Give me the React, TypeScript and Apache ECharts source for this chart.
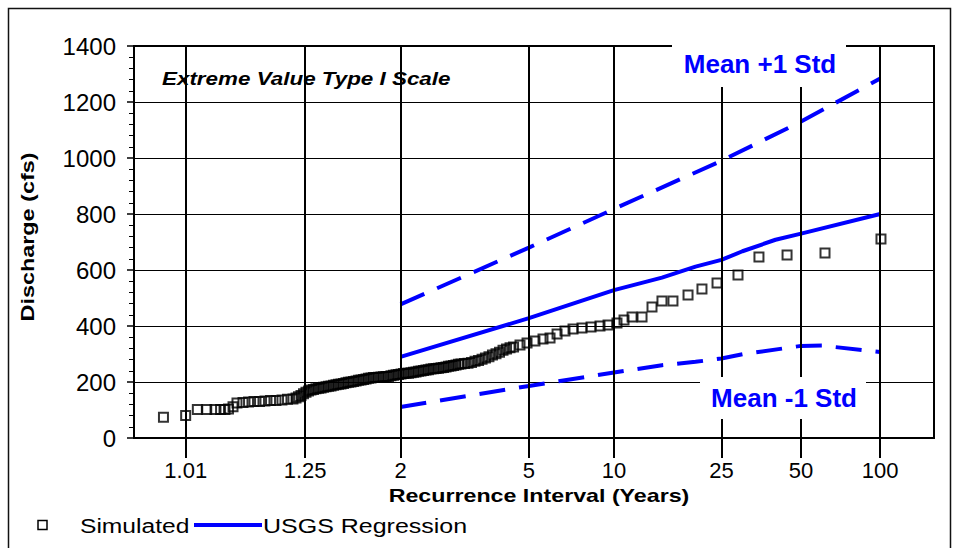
import React, { useEffect, useRef } from "react";
import * as echarts from "echarts";

const FONT = '"Liberation Sans", Arial, Helvetica, sans-serif';
const BLUE = "#0000FF";

// Recurrence-interval ticks (years), placed on an Extreme Value Type I (Gumbel) scale
const tickReturnPeriods = [1.01, 1.25, 2, 5, 10, 25, 50, 100];
const tickLabels = ["1.01", "1.25", "2", "5", "10", "25", "50", "100"];

// USGS regression curve (T in years, discharge in cfs)
const regressionT = [2, 5, 10, 15, 20, 25, 30, 40, 50, 100];
const regressionQ = [290, 428, 528, 573, 612, 636, 667, 708, 730, 800];

// Regression + 1 standard error
const plusStdT = [2, 5, 10, 25, 50, 100];
const plusStdQ = [477, 680, 818, 990, 1130, 1284];

// Regression - 1 standard error
const minusStdT = [2, 5, 10, 15, 20, 25, 30, 50, 60, 100];
const minusStdQ = [111, 186, 234, 260, 272, 284, 299, 329, 330, 307];

// Simulated annual peaks: Gumbel reduced variate (plotting position) and discharge (cfs)
const simulatedVariate = [
  -1.726, -1.53, -1.427, -1.344, -1.271, -1.222, -1.183, -1.152, -1.112, -1.077,
  -1.024, -0.975, -0.927, -0.878, -0.83, -0.781, -0.733, -0.68, -0.631, -0.583,
  -0.556, -0.534, -0.512, -0.49, -0.468, -0.446, -0.424, -0.402, -0.38, -0.357,
  -0.335, -0.313, -0.291, -0.269, -0.247, -0.225, -0.203, -0.181, -0.159, -0.137,
  -0.115, -0.093, -0.071, -0.049, -0.026, -0.004, 0.018, 0.04, 0.062, 0.084,
  0.106, 0.128, 0.15, 0.172, 0.194, 0.216, 0.238, 0.26, 0.282, 0.304,
  0.327, 0.349, 0.371, 0.393, 0.415, 0.437, 0.459, 0.481, 0.503, 0.525,
  0.547, 0.569, 0.591, 0.613, 0.635, 0.658, 0.68, 0.702, 0.724, 0.746,
  0.768, 0.79, 0.812, 0.834, 0.856, 0.878, 0.9,
  0.931, 0.962, 0.993, 1.024, 1.055, 1.086, 1.116, 1.147, 1.178, 1.209,
  1.24, 1.271, 1.302, 1.333,
  1.364, 1.421, 1.483, 1.553, 1.624, 1.686, 1.748, 1.818, 1.889, 1.968,
  2.048, 2.127, 2.198, 2.277, 2.339, 2.41, 2.498, 2.586, 2.674, 2.771,
  2.904, 3.027, 3.16, 3.345, 3.53, 3.778, 4.113, 4.607,
];
const simulatedDischarge = [
  74, 80, 102, 102, 102, 102, 102, 104, 112, 125,
  127, 129, 130, 130, 132, 134, 134, 136, 138, 139,
  143, 147, 152, 158, 163, 168, 171, 173, 176, 178,
  179, 181, 183, 185, 186, 188, 190, 192, 193, 195,
  197, 199, 200, 202, 204, 206, 207, 209, 211, 213,
  214, 216, 216, 217, 218, 219, 220, 220, 222, 224,
  226, 227, 229, 230, 231, 231, 233, 235, 236, 238,
  239, 241, 243, 244, 246, 247, 248, 249, 251, 252,
  254, 256, 257, 259, 261, 263, 264,
  266, 267, 270, 274, 277, 281, 286, 290, 296, 301,
  306, 313, 318, 322,
  325, 332, 339, 346, 354, 357, 371, 382, 389, 393,
  396, 400, 404, 411, 421, 432, 432, 468, 489, 489,
  511, 532, 554, 582, 646, 654, 661, 711,
];

const gumbel = (T: number) => -Math.log(-Math.log(1 - 1 / T));
const tickVariates = tickReturnPeriods.map(gumbel);

const X_MIN = -1.986;
const X_MAX = 5.075;

const centeredText = (text: string, font: string, fill = "#000", align = "center") => ({
  text,
  fill,
  font,
  textAlign: align,
  textVerticalAlign: "middle",
  align,
  verticalAlign: "middle",
});

function buildOption(): any {
  const toPairs = (ts: number[], qs: number[]) => ts.map((t, i) => [gumbel(t), qs[i]]);
  return {
    animation: false,
    backgroundColor: "#fff",
    textStyle: { fontFamily: FONT },
    grid: {
      left: 134,
      top: 46,
      width: 800,
      height: 392,
      show: true,
      borderColor: "#000",
      borderWidth: 2,
      backgroundColor: "transparent",
    },
    xAxis: {
      type: "value",
      min: X_MIN,
      max: X_MAX,
      axisLine: { show: true, onZero: false, lineStyle: { color: "#000", width: 2 } },
      axisTick: {
        show: true,
        customValues: tickVariates,
        length: 20,
        lineStyle: { color: "#000", width: 2 },
      },
      axisLabel: {
        customValues: tickVariates,
        fontSize: 22,
        color: "#000",
        margin: 21,
        fontFamily: FONT,
        formatter: (value: number) => {
          const i = tickVariates.findIndex((v) => Math.abs(v - value) < 1e-3);
          return i >= 0 ? tickLabels[i] : "";
        },
      },
      splitLine: { show: false },
    },
    yAxis: {
      type: "value",
      min: 0,
      max: 1400,
      interval: 200,
      axisLine: { show: true, onZero: false, lineStyle: { color: "#000", width: 2 } },
      axisTick: { show: true, length: 7, lineStyle: { color: "#000", width: 1.5 } },
      minorTick: { show: true, splitNumber: 5, length: 5, lineStyle: { color: "#000", width: 1 } },
      axisLabel: {
        fontSize: 24,
        color: "#000",
        margin: 18,
        fontFamily: FONT,
        formatter: (v: number) => String(v),
      },
      splitLine: { show: true, lineStyle: { color: "#000", width: 1 } },
    },
    series: [
      {
        name: "gridlines",
        type: "line",
        data: [],
        z: 1,
        silent: true,
        markLine: {
          silent: true,
          symbol: ["none", "none"],
          label: { show: false },
          lineStyle: { color: "#000", width: 2, type: "solid" },
          emphasis: { disabled: true },
          data: tickVariates.map((v) => ({ xAxis: v })),
        },
      },
      {
        name: "Simulated",
        type: "scatter",
        symbol: "rect",
        symbolSize: 9,
        silent: true,
        z: 3,
        itemStyle: { color: "rgba(0,0,0,0)", borderColor: "#000", borderWidth: 2 },
        data: simulatedVariate.map((v, i) => [v, simulatedDischarge[i]]),
      },
      {
        name: "USGS Regression",
        type: "line",
        symbol: "none",
        silent: true,
        z: 4,
        lineStyle: { color: BLUE, width: 4 },
        itemStyle: { color: BLUE },
        data: toPairs(regressionT, regressionQ),
      },
      {
        name: "Mean +1 Std",
        type: "line",
        symbol: "none",
        silent: true,
        z: 4,
        lineStyle: { color: BLUE, width: 4, type: [26, 14] },
        itemStyle: { color: BLUE },
        data: toPairs(plusStdT, plusStdQ),
      },
      {
        name: "Mean -1 Std",
        type: "line",
        symbol: "none",
        silent: true,
        z: 4,
        lineStyle: { color: BLUE, width: 4, type: [26, 14] },
        itemStyle: { color: BLUE },
        data: toPairs(minusStdT, minusStdQ),
      },
    ],
    graphic: [
      {
        type: "rect",
        silent: true,
        z: 0,
        shape: { x: 8.5, y: 8.5, width: 942, height: 580 },
        style: { fill: "none", stroke: "#111", lineWidth: 1.5 },
      },
      {
        type: "text",
        x: 162,
        y: 78,
        scaleX: 1.18,
        z: 50,
        silent: true,
        style: centeredText("Extreme Value Type I Scale", `italic bold 19px ${FONT}`, "#000", "left"),
      },
      {
        type: "text",
        x: 28,
        y: 237,
        rotation: Math.PI / 2,
        scaleX: 1.3,
        z: 50,
        silent: true,
        style: centeredText("Discharge (cfs)", `bold 18px ${FONT}`),
      },
      {
        type: "text",
        x: 539,
        y: 496,
        scaleX: 1.29,
        z: 50,
        silent: true,
        style: centeredText("Recurrence Interval (Years)", `bold 18px ${FONT}`),
      },
      {
        type: "rect",
        silent: true,
        z: 100,
        shape: { x: 672, y: 38, width: 174, height: 49 },
        style: { fill: "#fff" },
      },
      {
        type: "text",
        x: 760,
        y: 64,
        z: 101,
        silent: true,
        style: centeredText("Mean +1 Std", `bold 26px ${FONT}`, BLUE),
      },
      {
        type: "rect",
        silent: true,
        z: 100,
        shape: { x: 700, y: 377, width: 166, height: 42 },
        style: { fill: "#fff" },
      },
      {
        type: "text",
        x: 784,
        y: 398,
        z: 101,
        silent: true,
        style: centeredText("Mean -1 Std", `bold 26px ${FONT}`, BLUE),
      },
      // legend
      {
        type: "rect",
        silent: true,
        z: 50,
        shape: { x: 38, y: 520.5, width: 9, height: 9 },
        style: { fill: "none", stroke: "#000", lineWidth: 1.5 },
      },
      {
        type: "text",
        x: 80,
        y: 526,
        scaleX: 1.23,
        z: 50,
        silent: true,
        style: centeredText("Simulated", `20px ${FONT}`, "#000", "left"),
      },
      {
        type: "line",
        silent: true,
        z: 50,
        shape: { x1: 194, y1: 525, x2: 262, y2: 525 },
        style: { stroke: BLUE, lineWidth: 4 },
      },
      {
        type: "text",
        x: 263,
        y: 526,
        scaleX: 1.25,
        z: 50,
        silent: true,
        style: centeredText("USGS Regression", `20px ${FONT}`, "#000", "left"),
      },
    ],
  };
}

export default function App() {
  const ref = useRef<HTMLDivElement>(null);
  useEffect(() => {
    if (!ref.current) return;
    const chart = echarts.init(ref.current, undefined, { renderer: "svg" });
    chart.setOption(buildOption());
    return () => chart.dispose();
  }, []);
  return (
    <div
      ref={ref}
      style={{ position: "fixed", left: 0, top: 0, width: 960, height: 548, background: "#fff" }}
    />
  );
}
